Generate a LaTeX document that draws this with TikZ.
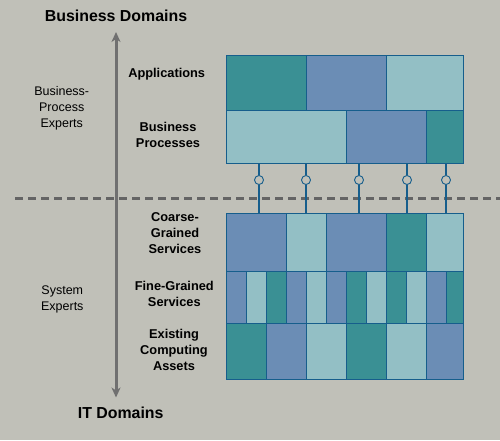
\documentclass[tikz,border=0pt]{standalone}
\usepackage{fontspec}
\setmainfont{Liberation Sans}
\usetikzlibrary{arrows.meta}
\definecolor{bgc}{RGB}{192,192,184}
\definecolor{tealc}{RGB}{58,144,148}
\definecolor{bluec}{RGB}{107,141,181}
\definecolor{lightc}{RGB}{147,191,197}
\definecolor{edgec}{RGB}{22,94,140}
\definecolor{axisc}{RGB}{112,112,112}
\definecolor{dashc}{RGB}{100,100,100}
\tikzset{
  cell/.style={draw=edgec, line width=0.9pt, rectangle, inner sep=0pt, outer sep=0pt, anchor=north west},
  lbl/.style={font=\fontsize{12.8}{16}\selectfont\bfseries, align=center, inner sep=0pt},
  side/.style={font=\fontsize{12.5}{16}\selectfont, align=center, inner sep=0pt},
  title/.style={font=\fontsize{15.9}{20}\selectfont\bfseries, inner sep=0pt},
  ring/.style={circle, draw=edgec, line width=0.9pt, fill=bgc, minimum size=9pt, inner sep=0pt},
  link/.style={draw=edgec, line width=1.8pt},
}
\newcommand{\cellat}[6]{\node[cell, fill=#2, minimum width=#5 pt, minimum height=#6 pt] (#1) at (#3,#4) {};}
\begin{document}
\begin{tikzpicture}[x=1pt,y=-1pt]
\fill[bgc] (0,0) rectangle (500,440);
\useasboundingbox (0,0) rectangle (500,440);
% axis
\coordinate (axtop) at (116,32);
\coordinate (axbot) at (116,397.5);
\draw[axisc, line width=3pt, {Stealth[length=10pt,width=9pt,inset=3pt]}-{Stealth[length=10pt,width=9pt,inset=3pt]}] (axtop) -- (axbot);
% dashed separator
\coordinate (dl) at (15,198.3);
\coordinate (dr) at (500,198.3);
\draw[dashc, line width=3pt, dash pattern=on 8pt off 5pt] (dl) -- (dr);
% titles
\node[title] (bd) at (116,16) {Business Domains};
\node[title] (itd) at (120.7,413) {IT Domains};
% side labels
\node[side] (bpe) at (61.7,108.5) {Business-\\Process\\Experts};
\node[side] (se) at (62.3,299.7) {System\\Experts};
\node[lbl] (lapp) at (166.7,74) {Applications};
\node[lbl] (lbp) at (168,134.7) {Business\\Processes};
\node[lbl] (lcg) at (175,233.5) {Coarse-\\Grained\\Services};
\node[lbl] (lfg) at (174.3,294) {Fine-Grained\\Services};
\node[lbl] (lec) at (174,350.3) {Existing\\Computing\\Assets};
% Applications row
\cellat{a1}{tealc}{226.3}{55.3}{80}{55}
\cellat{a2}{bluec}{306.3}{55.3}{80}{55}
\cellat{a3}{lightc}{386.3}{55.3}{77.4}{55}
% Business processes row
\cellat{b1}{lightc}{226.3}{110.3}{120}{53}
\cellat{b2}{bluec}{346.3}{110.3}{80}{53}
\cellat{b3}{tealc}{426.3}{110.3}{37.4}{53}
% Coarse-grained row
\cellat{c1}{bluec}{226.3}{213.3}{60}{58}
\cellat{c2}{lightc}{286.3}{213.3}{40}{58}
\cellat{c3}{bluec}{326.3}{213.3}{60}{58}
\cellat{c4}{tealc}{386.3}{213.3}{40}{58}
\cellat{c5}{lightc}{426.3}{213.3}{37.4}{58}
% Fine-grained row
\cellat{f1}{bluec}{226.3}{271.3}{20}{51.7}
\cellat{f2}{lightc}{246.3}{271.3}{20}{51.7}
\cellat{f3}{tealc}{266.3}{271.3}{20}{51.7}
\cellat{f4}{bluec}{286.3}{271.3}{20}{51.7}
\cellat{f5}{lightc}{306.3}{271.3}{20}{51.7}
\cellat{f6}{bluec}{326.3}{271.3}{20}{51.7}
\cellat{f7}{tealc}{346.3}{271.3}{20}{51.7}
\cellat{f8}{lightc}{366.3}{271.3}{20}{51.7}
\cellat{f9}{tealc}{386.3}{271.3}{20}{51.7}
\cellat{f10}{lightc}{406.3}{271.3}{20}{51.7}
\cellat{f11}{bluec}{426.3}{271.3}{20}{51.7}
\cellat{f12}{tealc}{446.3}{271.3}{17.4}{51.7}
% Existing computing assets row
\cellat{e1}{tealc}{226.3}{323}{40}{56}
\cellat{e2}{bluec}{266.3}{323}{40}{56}
\cellat{e3}{lightc}{306.3}{323}{40}{56}
\cellat{e4}{tealc}{346.3}{323}{40}{56}
\cellat{e5}{lightc}{386.3}{323}{40}{56}
\cellat{e6}{bluec}{426.3}{323}{37.4}{56}
% connectors with rings
\foreach \i/\x in {1/259,2/306,3/359,4/407,5/446}{
  \node[ring] (r\i) at (\x,180) {};
  \draw[link] (r\i.north) -- (r\i |- b1.south);
  \draw[link] (r\i.south) -- (r\i |- c1.north);
}
\end{tikzpicture}
\end{document}
